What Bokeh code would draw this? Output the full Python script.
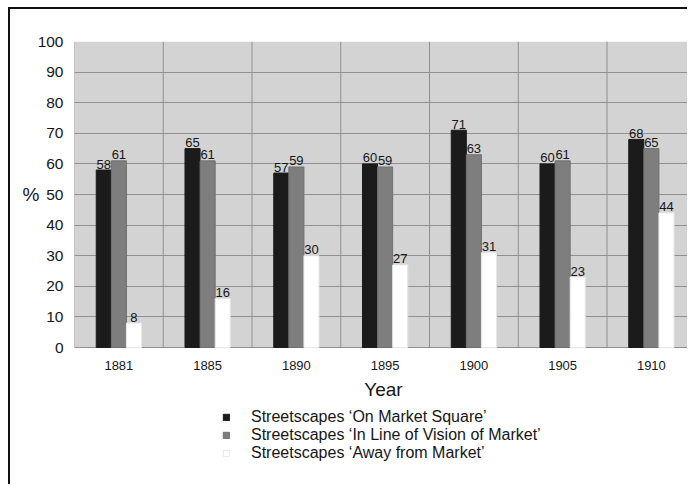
from bokeh.plotting import figure
from bokeh.models import (ColumnDataSource, Range1d, FixedTicker, LabelSet, Label,
                          Legend, LegendItem, LinearAxis)
from bokeh.core.properties import value
from bokeh.embed import file_html
from bokeh.resources import INLINE

years = ["1881", "1885", "1890", "1895", "1900", "1905", "1910"]
on_market = [58, 65, 57, 60, 71, 60, 68]
line_of_vision = [61, 61, 59, 59, 63, 61, 65]
away = [8, 16, 30, 27, 31, 23, 44]
series_names = ["Streetscapes \u2018On Market Square\u2019",
                "Streetscapes \u2018In Line of Vision of Market\u2019",
                "Streetscapes \u2018Away from Market\u2019"]
y_ticks = [0, 10, 20, 30, 40, 50, 60, 70, 80, 90, 100]

FONT = "Liberation Sans"
TXT = "#161616"
n = len(years)
centers = [i + 0.5 for i in range(n)]
bounds = list(range(n + 1))
y_max = y_ticks[-1]

# frame: 615 x 445 px; 306 px per 100 %, 88.75 px per category
p = figure(width=679, height=477, output_backend="svg", toolbar_location=None,
           x_range=Range1d(0, 615 / 88.75), y_range=Range1d(100 - 445 / 3.06, 100),
           min_border_left=64, min_border_top=32, min_border_right=0,
           min_border_bottom=0)
p.background_fill_color = "white"
p.border_fill_color = "white"
p.outline_line_color = None
p.styles = {"margin-left": "8px", "margin-top": "7px",
            "border-left": "2px solid #111", "border-top": "2px solid #111"}

# plot-area background (0..100 %)
p.quad(left=[bounds[0]], right=[bounds[-1]], bottom=[y_ticks[0]], top=[y_max],
       fill_color="#d3d3d3", line_color=None, level="image")

# grid
p.xgrid.visible = False
p.ygrid.ticker = FixedTicker(ticks=y_ticks)
p.ygrid.grid_line_color = "#909090"
p.ygrid.grid_line_width = 1
p.segment(x0=bounds, y0=[y_ticks[0]] * len(bounds), x1=bounds,
          y1=[y_max] * len(bounds), line_color="#909090", line_width=1,
          level="underlay")

# axes
p.xaxis.visible = False
p.yaxis.ticker = FixedTicker(ticks=y_ticks)
p.yaxis.axis_line_color = None
p.yaxis.major_tick_line_color = None
p.yaxis.minor_tick_line_color = None
p.yaxis.major_tick_out = 0
p.yaxis.major_tick_in = 0
p.yaxis.minor_tick_out = 0
p.yaxis.minor_tick_in = 0
p.yaxis.major_label_text_font = FONT
p.yaxis.major_label_text_color = TXT
p.yaxis.major_label_text_font_size = "15.5px"
p.yaxis.major_label_standoff = 11

pct_axis = LinearAxis(ticker=FixedTicker(ticks=[50]),
                      major_label_overrides={50: "%"},
                      axis_line_color=None, major_tick_line_color=None,
                      minor_tick_line_color=None, major_tick_out=0, major_tick_in=0,
                      minor_tick_out=0, minor_tick_in=0, major_label_standoff=-5,
                      major_label_text_font=FONT, major_label_text_font_size="19px",
                      major_label_text_color=TXT)
p.add_layout(pct_axis, "left")

# bars
bw = 0.17
offs = [-0.17, 0.0, 0.17]
colors = ["#1b1b1b", "#7e7e7e", "#ffffff"]
line_colors = ["#1b1b1b", "#707070", "#e6e6e6"]
items = []
for vals, off, col, lc, name in zip([on_market, line_of_vision, away], offs, colors, line_colors, series_names):
    src = ColumnDataSource(dict(x=[c + off for c in centers], top=vals,
                                lab=[str(v) for v in vals]))
    r = p.vbar(x="x", top="top", width=bw, source=src, fill_color=col,
               line_color=lc, line_width=1)
    items.append(LegendItem(label=name, renderers=[r]))
    p.add_layout(LabelSet(x="x", y="top", text="lab", source=src,
                          text_align="center", text_baseline="alphabetic",
                          y_offset=1.5, text_font=value(FONT),
                          text_font_size=value("13px"), text_color=TXT))

# category (year) labels under the plot area
ysrc = ColumnDataSource(dict(x=centers, y=[y_ticks[0]] * n, lab=years))
p.add_layout(LabelSet(x="x", y="y", text="lab", source=ysrc, text_align="center",
                      text_baseline="top", y_offset=-13, text_font=value(FONT),
                      text_font_size=value("13px"), text_color=TXT))
p.add_layout(Label(x=(383 - 74) / 88.75, y=y_ticks[0], text="Year", text_align="center",
                   text_baseline="top", y_offset=-31, text_font=FONT,
                   text_font_size="19px", text_color=TXT))

legend = Legend(items=items, location=(148, 24), orientation="vertical",
                glyph_width=8, glyph_height=8, label_standoff=21,
                label_height=18, spacing=0, padding=0, margin=0,
                label_text_font=FONT, label_text_font_size="16px",
                label_text_color=TXT, border_line_color=None,
                background_fill_alpha=0)
p.add_layout(legend, "center")

open("out.html", "w").write(file_html(p, INLINE))
